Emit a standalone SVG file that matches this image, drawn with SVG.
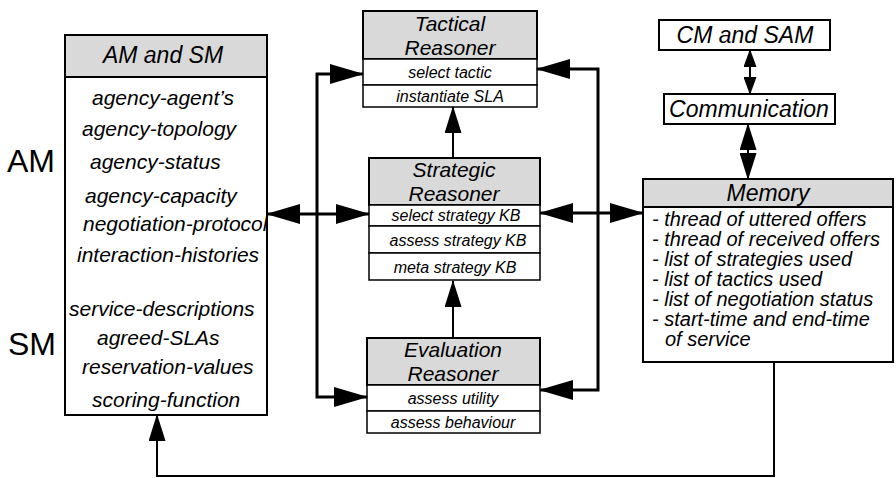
<svg xmlns="http://www.w3.org/2000/svg" width="896" height="478" viewBox="0 0 896 478">
<style>
text{font-family:"Liberation Sans",Arial,sans-serif;font-style:italic;fill:#000}
.box{fill:#fff;stroke:#000;stroke-width:2}
.hdr{fill:#d9d9d9;stroke:#000;stroke-width:2}
.row{fill:#fff;stroke:#000;stroke-width:1.5}
.t22{font-size:23px;text-anchor:middle}
.rh{font-size:21px;text-anchor:middle}
.t20{font-size:20px}
.t21{font-size:21px}
.t16{font-size:16px;text-anchor:middle}
.big{font-size:32px;font-style:normal}
.c{fill:none;stroke:#000;stroke-width:3}
.c2{fill:none;stroke:#000;stroke-width:2}
</style>
<defs>
<marker id="aL" markerUnits="userSpaceOnUse" markerWidth="34" markerHeight="20" viewBox="0 0 34 20" refX="33" refY="10" orient="auto-start-reverse"><path d="M0,0 L34,10 L0,20 z"/></marker>
<marker id="aM" markerUnits="userSpaceOnUse" markerWidth="27" markerHeight="17" viewBox="0 0 27 17" refX="26" refY="8.5" orient="auto-start-reverse"><path d="M0,0 L27,8.5 L0,17 z"/></marker>
<marker id="aS" markerUnits="userSpaceOnUse" markerWidth="18" markerHeight="13" viewBox="0 0 18 13" refX="17" refY="6.5" orient="auto-start-reverse"><path d="M0,0 L18,6.5 L0,13 z"/></marker>
</defs>

<g id="am-sm">
<rect class="box" x="65" y="35" width="202" height="380"/>
<rect class="hdr" x="65" y="35" width="202" height="42"/>
<text class="t22" x="163" y="63">AM and SM</text>
<text class="t21" x="92" y="105">agency-agent’s</text>
<text class="t21" x="82" y="136">agency-topology</text>
<text class="t21" x="90" y="169">agency-status</text>
<text class="t21" x="85" y="203">agency-capacity</text>
<text class="t21" x="83" y="231">negotiation-protocol</text>
<text class="t21" x="77" y="262">interaction-histories</text>
<text class="t21" x="69" y="316">service-descriptions</text>
<text class="t21" x="97" y="345">agreed-SLAs</text>
<text class="t21" x="82" y="374">reservation-values</text>
<text class="t21" x="92" y="407">scoring-function</text>
</g>
<g id="label-am"><text class="big" x="7" y="172">AM</text></g>
<g id="label-sm"><text class="big" x="8" y="355">SM</text></g>

<g id="tactical">
<rect class="hdr" x="363" y="11" width="174" height="48"/>
<text class="rh" x="450" y="30.5">Tactical</text>
<text class="rh" x="450" y="54.5">Reasoner</text>
<rect class="row" x="363" y="59" width="174" height="26"/>
<text class="t16" x="450" y="78">select tactic</text>
<rect class="row" x="363" y="85" width="174" height="22"/>
<text class="t16" x="450" y="102">instantiate SLA</text>
</g>

<g id="strategic">
<rect class="hdr" x="369" y="158" width="171" height="47"/>
<text class="rh" x="454" y="177">Strategic</text>
<text class="rh" x="454" y="201">Reasoner</text>
<rect class="row" x="369" y="205" width="171" height="21"/>
<text class="t16" x="456" y="221">select strategy KB</text>
<rect class="row" x="369" y="226" width="171" height="27"/>
<text class="t16" x="458" y="246">assess strategy KB</text>
<rect class="row" x="369" y="253" width="171" height="27"/>
<text class="t16" x="455" y="273">meta strategy KB</text>
</g>

<g id="evaluation">
<rect class="hdr" x="367" y="338" width="173" height="47"/>
<text class="rh" x="453" y="357">Evaluation</text>
<text class="rh" x="453" y="381">Reasoner</text>
<rect class="row" x="367" y="385" width="173" height="26"/>
<text class="t16" x="453" y="404">assess utility</text>
<rect class="row" x="367" y="411" width="173" height="22"/>
<text class="t16" x="453" y="428">assess behaviour</text>
</g>

<g id="cm-sam">
<rect class="box" x="659" y="20" width="171" height="30"/>
<text class="t22" x="745" y="43">CM and SAM</text>
</g>

<g id="communication">
<rect class="box" x="664" y="94" width="171" height="30"/>
<text class="t22" x="749" y="117">Communication</text>
</g>

<g id="memory">
<rect class="box" x="643" y="179" width="250" height="183"/>
<rect class="hdr" x="643" y="179" width="250" height="28"/>
<text class="t22" x="768" y="201">Memory</text>
<text class="t20" x="652" y="226">- thread of uttered offers</text>
<text class="t20" x="652" y="246">- thread of received offers</text>
<text class="t20" x="652" y="266">- list of strategies used</text>
<text class="t20" x="652" y="286">- list of tactics used</text>
<text class="t20" x="652" y="306">- list of negotiation status</text>
<text class="t20" x="652" y="326">- start-time and end-time</text>
<text class="t20" x="665" y="346">of service</text>
</g>

<g id="connectors">
<path class="c" d="M363,74 H317 V397 H367" marker-start="url(#aL)" marker-end="url(#aL)"/>
<path class="c" d="M537,69 H598 V390 H540" marker-start="url(#aL)" marker-end="url(#aL)"/>
<path class="c" d="M267,214 H369" marker-start="url(#aL)" marker-end="url(#aL)"/>
<path class="c" d="M540,213 H643" marker-start="url(#aL)" marker-end="url(#aL)"/>
<path class="c2" d="M453,158 V107" marker-end="url(#aM)"/>
<path class="c2" d="M453,338 V281" marker-end="url(#aM)"/>
<path class="c2" d="M774,362 V476 H157 V415" marker-end="url(#aM)"/>
<path class="c2" d="M750,50 V94" marker-start="url(#aS)" marker-end="url(#aS)"/>
<path class="c2" d="M748,124 V179" marker-start="url(#aM)" marker-end="url(#aM)"/>
</g>
</svg>
